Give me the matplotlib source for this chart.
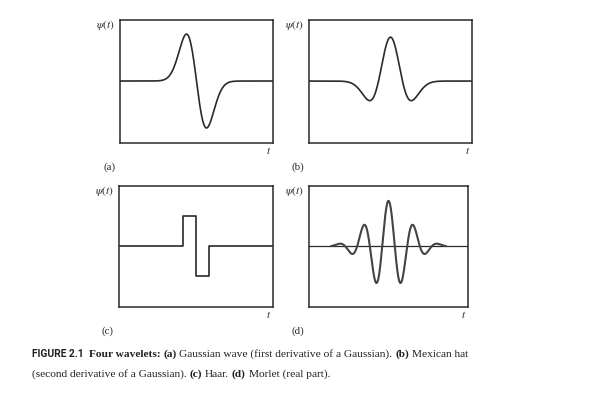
import numpy as np
import matplotlib
matplotlib.use('Agg')
import matplotlib.pyplot as plt

# ---------------  wavelet definitions ------------

panel_tags = ['(a)', '(b)', '(c)', '(d)']

# x ranges of each panel, in units of the wavelet scale
x_limits = [(-7.65, 7.65), (-6.8, 6.8), (-6.0, 6.0), (-4.0, 4.0)]
# y ranges, in units of the wavelet peak
y_limits = [(-1.32, 1.30), (-1.41, 1.39), (-2.03, 2.0), (-1.36, 1.33)]

# Haar wavelet as steps
haar_t = [-6.0, -1.0, -1.0, 0.0, 0.0, 1.0, 1.0, 6.0]
haar_psi = [0, 0, 1, 1, -1, -1, 0, 0]

morlet_omega = 5.0
morlet_span = 2.87   # the drawn part of the Morlet curve

caption_label = "FIGURE 2.1"
caption_line1 = [("Four wavelets:", 'bold'), ("(a)", 'bold'),
                 ("Gaussian wave (first derivative of a Gaussian).", 'normal'),
                 ("(b)", 'bold'), ("Mexican hat", 'normal')]
caption_line2 = [("(second derivative of a Gaussian).", 'normal'), ("(c)", 'bold'),
                 ("Haar.", 'normal'), ("(d)", 'bold'), ("Morlet (real part).", 'normal')]

W, H = 592, 412
fig = plt.figure(figsize=(W / 100, H / 100), dpi=100)
ink = '#2a2a2a'

# panel boxes in pixels: left, top, right, bottom
boxes = [(120, 20, 273, 143), (309, 20, 472, 143), (119, 186, 273, 307), (309, 186, 468, 307)]

serif = ['Liberation Serif', 'DejaVu Serif']


def px_axes(box):
    l, t, r, b = box
    return fig.add_axes([l / W, 1 - b / H, (r - l) / W, (b - t) / H])


axes = [px_axes(b) for b in boxes]

# (a) first derivative of a Gaussian, normalised to peak 1
t = np.linspace(*x_limits[0], 600)
g1 = -t * np.exp(-t ** 2 / 2)
axes[0].plot(t, g1 / g1.max(), color=ink, lw=1.2)

# (b) Mexican hat
t = np.linspace(*x_limits[1], 600)
axes[1].plot(t, (1 - t ** 2) * np.exp(-t ** 2 / 2), color=ink, lw=1.2)

# (c) Haar
axes[2].plot(haar_t, haar_psi, color=ink, lw=1.2)

# (d) Morlet real part
axes[3].plot(x_limits[3], [0, 0], color=ink, lw=0.9)
t = np.linspace(-morlet_span, morlet_span, 600)
axes[3].plot(t, np.cos(morlet_omega * t) * np.exp(-t ** 2 / 2), color='#444444', lw=1.5)

for ax, xl, yl, box, tag in zip(axes, x_limits, y_limits, boxes, panel_tags):
    ax.set_xlim(xl)
    ax.set_ylim(yl)
    ax.set_xticks([])
    ax.set_yticks([])
    for sp in ax.spines.values():
        sp.set_color(ink)
        sp.set_linewidth(1.1)
    l, top, r, b = box
    fig.text((l - 5) / W, 1 - (top + 5) / H, r'$\psi(t)$', ha='right', va='center',
             fontsize=8.2, color=ink, math_fontfamily='stix')
    fig.text((r - 4) / W, 1 - (b + 8) / H, r'$t$', ha='center', va='center',
             fontsize=8, color=ink, math_fontfamily='stix')
    fig.text((l - 17) / W, 1 - (b + 24) / H, tag, ha='left', va='center',
             fontsize=7.8, color=ink, family=serif)

# ---------------  caption  ------------

cap_size = 8.2
cap_color = '#231f20'
styles = {
    'bold': dict(family=serif, weight='bold', fontsize=cap_size),
    'normal': dict(family=serif, fontsize=cap_size),
}
renderer = fig.canvas.get_renderer()

space = fig.text(0, 0, 'a a', **styles['normal']).get_window_extent(renderer).width - \
    fig.text(0, 0, 'aa', **styles['normal']).get_window_extent(renderer).width
for txt in fig.texts[-2:]:
    txt.remove()


def draw_runs(x, y, runs):
    for s, st in runs:
        tx = fig.text(x / W, 1 - y / H, s, va='baseline', ha='left', color=cap_color, **styles[st])
        x += tx.get_window_extent(renderer).width + space


lab = fig.text(32 / W, 1 - 357 / H, caption_label, va='baseline', ha='left', color=cap_color,
               family=['Roboto', 'DejaVu Sans'], weight='bold', fontsize=7.4)
lab_end = 32 + lab.get_window_extent(renderer).width
draw_runs(max(87, lab_end + 5), 357, caption_line1)
draw_runs(32, 377, caption_line2)

fig.savefig('out.png', dpi=100)
